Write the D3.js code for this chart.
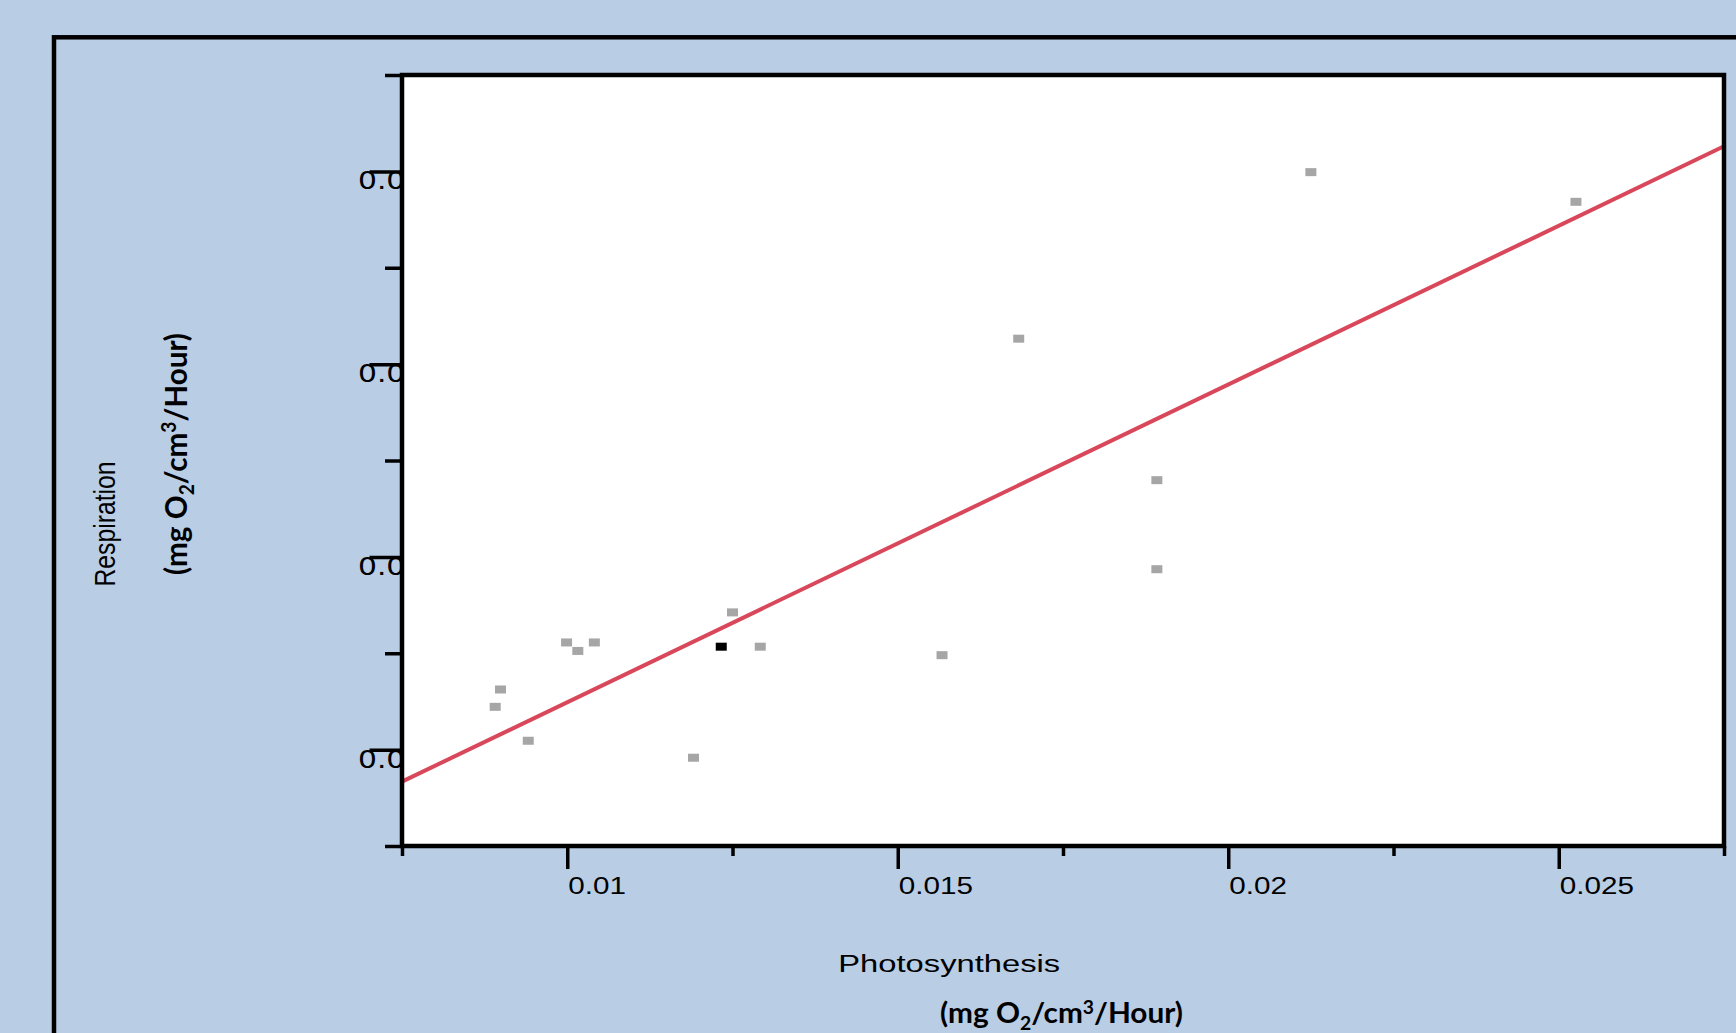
<!DOCTYPE html>
<html>
<head>
<meta charset="utf-8">
<script src="https://cdn.jsdelivr.net/npm/d3@7"></script>
<style>
  body { margin: 0; background: #b9cde5; }
  svg { display: block; }
</style>
</head>
<body>
<div class="canvas"></div>
<script>
//---------------------------
// data
const photosynthesis = [0.00899, 0.00891, 0.00941, 0.00999, 0.01016, 0.01041, 0.01250,
                        0.01292, 0.01191, 0.01567, 0.01683, 0.01892, 0.01892, 0.02125, 0.02526];
const respiration    = [0.00656, 0.00611, 0.00523, 0.00778, 0.00756, 0.00778, 0.00856,
                        0.00767, 0.00479, 0.00745, 0.01566, 0.01199, 0.00968, 0.01998, 0.01921];
// the one black point
const markedX = [0.01233];
const markedY = [0.00767];
// trend line end points
const trendX = [0.0075, 0.0275];
const trendY = [0.00417, 0.02065];

const xMajor = [0.01, 0.015, 0.02, 0.025];
const xMinor = [0.0075, 0.0125, 0.0175, 0.0225, 0.0275];
const xLabels = ['0.01', '0.015', '0.02', '0.025'];
const yMajor = [0.005, 0.01, 0.015, 0.02];
const yMinor = [0.0025, 0.0075, 0.0125, 0.0175, 0.0225];
const yLabels = ['0.005', '0.01', '0.015', '0.02'];
//---------------------------

var chartProp = {
    width: 1736,
    height: 1033,
    margin: { top: 75, right: 12, bottom: 187, left: 402 },
    bgColor: '#b9cde5',
    pointColor: '#a6a6a6',
    lineColor: '#d9475a',
    axisWidth: 4.5,
    tickWidth: 3.5
};

const graphWidth = chartProp.width - chartProp.margin.left - chartProp.margin.right;
const graphHeight = chartProp.height - chartProp.margin.top - chartProp.margin.bottom;

const svg = d3.select('.canvas').append('svg')
    .attr('width', chartProp.width)
    .attr('height', chartProp.height);

svg.append('rect')
    .attr('width', chartProp.width)
    .attr('height', chartProp.height)
    .attr('fill', chartProp.bgColor);

// outer frame, runs off the right and bottom edge
svg.append('rect')
    .attr('x', 54).attr('y', 37.3)
    .attr('width', 2000).attr('height', 2000)
    .attr('fill', 'none')
    .attr('stroke', '#000')
    .attr('stroke-width', 4.5);

const x = d3.scaleLinear().domain([0.0075, 0.0275]).range([0, graphWidth]);
const y = d3.scaleLinear().domain([0.0025, 0.0225]).range([graphHeight, 0]);

// y labels go behind the plot area, so only "0.0" stays visible
svg.append('g').selectAll('text')
    .data(yMajor)
    .enter().append('text')
    .attr('transform', (d, i) => `translate(358, ${chartProp.margin.top + y(d) + 18}) scale(1.24, 1)`)
    .attr('font-family', 'DejaVu Sans')
    .attr('font-size', 24)
    .attr('fill', '#000')
    .text((d, i) => yLabels[i]);

const graph = svg.append('g')
    .attr('transform', `translate(${chartProp.margin.left}, ${chartProp.margin.top})`);

graph.append('rect')
    .attr('width', graphWidth)
    .attr('height', graphHeight)
    .attr('fill', '#fff');

// trend line
const line = d3.line()
    .x((d, i) => x(trendX[i]))
    .y((d, i) => y(trendY[i]));

graph.append('path')
    .datum(trendX)
    .attr('d', line)
    .attr('fill', 'none')
    .attr('stroke', chartProp.lineColor)
    .attr('stroke-width', 4);

// points
const drawPoints = (xs, ys, color) => {
    graph.append('g').selectAll('rect')
        .data(xs)
        .enter().append('rect')
        .attr('x', d => x(d) - 5.5)
        .attr('y', (d, i) => y(ys[i]) - 4)
        .attr('width', 11)
        .attr('height', 8)
        .attr('fill', color);
};
drawPoints(photosynthesis, respiration, chartProp.pointColor);
drawPoints(markedX, markedY, '#000');

// axes: major and minor ticks, no domain (the border draws it)
const tickAxis = (axis, values, size, transform) => {
    const g = graph.append('g')
        .attr('transform', transform)
        .call(axis.tickValues(values).tickSize(size).tickFormat(''));
    g.select('.domain').remove();
    g.selectAll('line').attr('stroke', '#000').attr('stroke-width', chartProp.tickWidth);
};
tickAxis(d3.axisLeft(y), yMajor, 32.5, 'translate(0,0)');
tickAxis(d3.axisLeft(y), yMinor, 17, 'translate(0,0)');
tickAxis(d3.axisBottom(x), xMajor, 23, `translate(0, ${graphHeight})`);
tickAxis(d3.axisBottom(x), xMinor, 10, `translate(0, ${graphHeight})`);

graph.append('rect')
    .attr('width', graphWidth)
    .attr('height', graphHeight)
    .attr('fill', 'none')
    .attr('stroke', '#000')
    .attr('stroke-width', chartProp.axisWidth);

// x labels start at their tick
graph.append('g').selectAll('text')
    .data(xMajor)
    .enter().append('text')
    .attr('transform', d => `translate(${x(d) + 1}, ${graphHeight + 48}) scale(1.235, 1)`)
    .attr('font-family', 'Liberation Sans, Arial, sans-serif')
    .attr('font-size', 24)
    .attr('fill', '#000')
    .text((d, i) => xLabels[i]);

// titles
function fitWidth(text, px, py, width) {
    const len = text.node().getComputedTextLength();
    text.attr('transform', `translate(${px}, ${py}) scale(${width / len}, 1)`);
}
function fitLength(text, px, py, length, sx) {
    const len = text.node().getComputedTextLength();
    text.attr('transform', `translate(${px}, ${py}) scale(${sx}, ${length / len}) rotate(-90)`);
}
function unitText(parent, size) {
    const t = parent.append('text')
        .attr('font-family', 'Lato, sans-serif')
        .attr('font-weight', 'bold')
        .attr('font-size', size)
        .attr('fill', '#000');
    const small = size * 0.65;
    t.append('tspan').text('(mg O');
    t.append('tspan').attr('font-size', small).attr('dy', size * 0.25).text('2');
    t.append('tspan').attr('dy', -size * 0.25).text('/cm');
    t.append('tspan').attr('font-size', small).attr('dy', -size * 0.33).text('3');
    t.append('tspan').attr('dy', size * 0.33).text('/Hour)');
    return t;
}

const xTitle = svg.append('text')
    .attr('font-family', 'Liberation Sans, Arial, sans-serif')
    .attr('font-size', 23)
    .attr('fill', '#000')
    .text('Photosynthesis');
fitWidth(xTitle, 838.3, 972.3, 222);

const xUnit = unitText(svg, 28);
fitWidth(xUnit, 940, 1023.3, 243);

const yTitle = svg.append('text')
    .attr('font-family', 'Liberation Sans, Arial, sans-serif')
    .attr('font-size', 25)
    .attr('text-anchor', 'middle')
    .attr('fill', '#000')
    .text('Respiration');
fitLength(yTitle, 115, 524, 125, 1.21);

const yUnit = unitText(svg, 26).attr('text-anchor', 'middle');
fitLength(yUnit, 186.5, 454, 242, 1.18);
</script>
</body>
</html>
